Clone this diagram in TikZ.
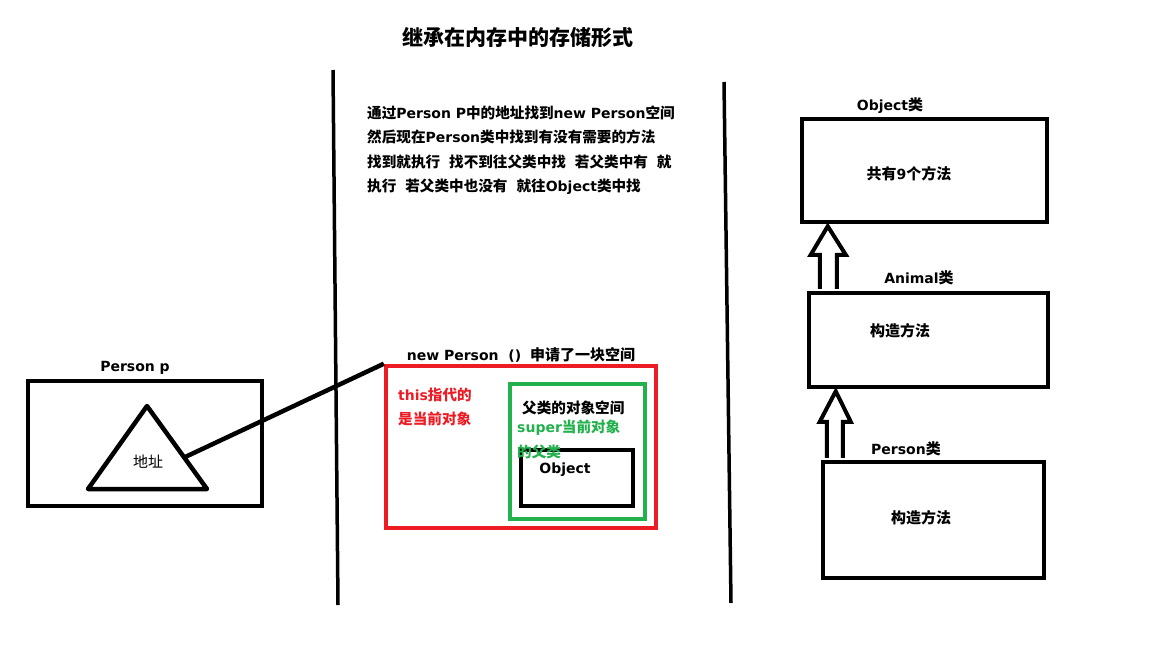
\documentclass[tikz,border=0pt]{standalone}
\usepackage{fontspec}
\setmainfont{Noto Sans CJK SC}
\newfontfamily\latfont{DejaVu Sans}
\newcommand{\en}[1]{{\latfont\fontsize{14}{17}\selectfont #1}}
\newcommand{\gap}{\hspace{9pt}}
\usetikzlibrary{calc,positioning}
\tikzset{
	box/.style={draw,line width=4.5pt,rectangle,inner sep=0pt},
	txt/.style={font=\fontsize{15}{17}\selectfont\bfseries,inner sep=0pt},
	tag/.style={font=\fontsize{14.6}{17}\selectfont\bfseries,inner sep=0pt,anchor=west},
	hollow/.style={draw,line width=4pt,line join=miter,fill=white}
}
\definecolor{myred}{RGB}{237,28,36}
\definecolor{mygreen}{RGB}{34,177,76}

\begin{document}
\begin{tikzpicture}[x=1pt,y=-1pt]
					\useasboundingbox (0,0) rectangle (1152,648);
					%TITLE
					\node[font=\fontsize{21}{24}\selectfont\bfseries,inner sep=0pt] (title) at (518,37) {继承在内存中的存储形式};
					%DIVIDERS
					\draw[line width=3.5pt] (333,70) coordinate(L1) -- (338,605) coordinate(L2);
					\draw[line width=3.5pt] (724,82) coordinate(R1) -- (731,603) coordinate(R2);
					%EXPLANATION
					\node[tag] (t1) at (367,113) {通过\en{Person P}中的地址找到\en{new Person}空间};
					\node[tag] (t2) at (367,137) {然后现在\en{Person}类中找到有没有需要的方法};
					\node[tag] (t3) at (367,162) {找到就执行\gap 找不到往父类中找\gap 若父类中有\gap 就};
					\node[tag] (t4) at (367,187) {执行\gap 若父类中也没有\gap 就往\en{Object}类中找};
					%STACK: Person p
					\node[box,minimum width=234pt,minimum height=125pt] (pbox) at (145,443.5) {};
					\node[txt] (plabel) at (135,368) {\en{Person p}};
					\coordinate (A) at (147,406);
					\coordinate (B) at (88,489);
					\coordinate (C) at (207,489);
					\draw[line width=4.5pt,line join=round] (A) -- (B) -- (C) -- cycle;
					\node[font=\fontsize{15}{17}\selectfont,inner sep=0pt] (addr) at (148,462) {地址};
					\coordinate (P) at ($(A)!0.62!(C)$);
					%HEAP: new Person ()
					\node[box,draw=myred,minimum width=270pt,minimum height=162pt] (heap) at (521,447) {};
					\node[txt] (hlabel) at (521,355) {\en{new Person\ \ ()}\gap 申请了一块空间};
					\draw[line width=4.5pt] (P) -- (heap.north west);
					\node[tag,text=myred] (this1) at (398,395) {\en{this}指代的};
					\node[tag,text=myred] (this2) at (398,419) {是当前对象};
					\node[box,draw=mygreen,minimum width=135pt,minimum height=135pt] (sup) at (577.5,451.5) {};
					\node[tag] (suplabel) at (522,408) {父类的对象空间};
					\node[box,minimum width=112pt,minimum height=56pt] (obj) at (577,478) {};
					\node[txt] (objtext) at (565,470) {\en{Object}};
					\node[tag,text=mygreen] (super1) at (517,428) {\en{super}当前对象};
					\node[tag,text=mygreen] (super2) at (517,452) {的父类};
					%CLASSES
					\node[box,minimum width=245pt,minimum height=103pt] (objcls) at (924.5,170.5) {};
					\node[txt] (objname) at (890,106) {\en{Object}类};
					\node[txt] (objm) at (909,174) {共有\en{9}个方法};
					\node[box,minimum width=239pt,minimum height=94pt] (anicls) at (928.5,340) {};
					\node[txt] (aniname) at (919,278) {\en{Animal}类};
					\node[txt] (anim) at (900,331) {构造方法};
					\node[box,minimum width=221pt,minimum height=116pt] (percls) at (933.5,520) {};
					\node[txt] (pername) at (906,449) {\en{Person}类};
					\node[txt] (perm) at (921,518) {构造方法};
					%INHERITANCE ARROWS
					\draw[hollow] ($(anicls.north west)+(13,-2)$) -- ++(0,-34) -- ++(-9,0)
						-- ($(objcls.south west)+(28,2)$) -- ($(anicls.north west)+(39,-36)$)
						-- ++(-9,0) -- ++(0,34);
					\draw[hollow] ($(percls.north west)+(6,-2)$) -- ++(0,-36) -- ++(-7,0)
						-- ($(anicls.south west)+(29,2)$) -- ($(percls.north west)+(30,-38)$)
						-- ++(-8,0) -- ++(0,36);
\end{tikzpicture}
\end{document}
